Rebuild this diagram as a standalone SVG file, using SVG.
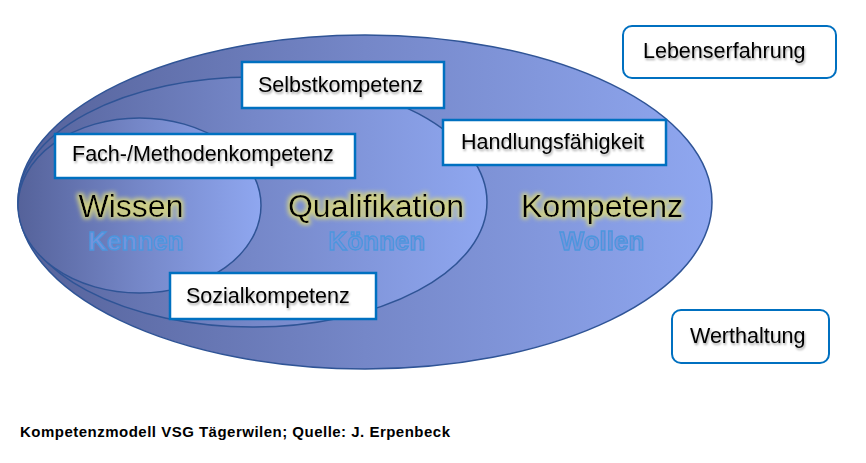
<svg xmlns="http://www.w3.org/2000/svg" width="866" height="463" viewBox="0 0 866 463">
<defs>
<linearGradient id="gBlue" x1="0" y1="0" x2="1" y2="0">
<stop offset="0" stop-color="#55629a"/>
<stop offset="0.5" stop-color="#7587c8"/>
<stop offset="1" stop-color="#8fa7f0"/>
</linearGradient>
<filter id="glow" x="-20%" y="-40%" width="140%" height="180%">
<feMorphology in="SourceAlpha" operator="dilate" radius="1.5" result="d"/>
<feGaussianBlur in="d" stdDeviation="2" result="b"/>
<feFlood flood-color="#d2d283" flood-opacity="0.95"/>
<feComposite in2="b" operator="in" result="g"/>
<feMerge><feMergeNode in="g"/><feMergeNode in="SourceGraphic"/></feMerge>
</filter>
<filter id="soft" x="-10%" y="-30%" width="120%" height="160%">
<feGaussianBlur stdDeviation="0.4"/>
</filter>
<filter id="shadow" x="-10%" y="-30%" width="120%" height="160%">
<feDropShadow dx="1" dy="2" stdDeviation="1.2" flood-color="#000" flood-opacity="0.35"/>
</filter>
</defs>
<style>
.ell{fill:url(#gBlue);stroke:#2f5496;stroke-width:1.5}
.box{fill:#fff;stroke:#0070c0;stroke-width:2.5}
.rbox{fill:#fff;stroke:#0070c0;stroke-width:2}
.bt{font-family:"Liberation Sans",Arial,sans-serif;font-size:21.5px;fill:#000;filter:url(#shadow)}
.big{font-family:"Liberation Sans",Arial,sans-serif;font-size:32px;fill:#000;text-anchor:middle;filter:url(#glow)}
.sub{font-family:"Liberation Sans",Arial,sans-serif;font-size:26px;font-weight:bold;fill:#7594dc;stroke:#4c96de;stroke-width:1.3;text-anchor:middle;filter:url(#soft)}
.cap{font-family:"Liberation Sans",Arial,sans-serif;font-size:15px;font-weight:bold;fill:#000}
</style>
<rect width="866" height="463" fill="#fff"/>
<g id="ellipse-kompetenz">
<ellipse class="ell" cx="365" cy="202" rx="347" ry="167"/>
</g>
<g id="ellipse-qualifikation">
<ellipse class="ell" cx="252.5" cy="202" rx="234.5" ry="125"/>
</g>
<g id="ellipse-wissen">
<ellipse class="ell" cx="139.5" cy="205.5" rx="121.5" ry="87.5"/>
</g>
<g id="label-wissen">
<text class="big" x="131" y="217">Wissen</text>
<text class="sub" x="136" y="250">Kennen</text>
</g>
<g id="label-qualifikation">
<text class="big" x="376" y="217">Qualifikation</text>
<text class="sub" x="377" y="250">Können</text>
</g>
<g id="label-kompetenz">
<text class="big" x="602" y="217">Kompetenz</text>
<text class="sub" x="602" y="250">Wollen</text>
</g>
<g id="node-selbstkompetenz">
<rect class="box" x="242" y="62" width="202" height="46"/>
<text class="bt" x="258" y="92">Selbstkompetenz</text>
</g>
<g id="node-fach">
<rect class="box" x="55" y="134" width="300" height="44"/>
<text class="bt" x="72" y="161">Fach-/Methodenkompetenz</text>
</g>
<g id="node-handlung">
<rect class="box" x="443" y="120" width="223" height="45"/>
<text class="bt" x="461" y="149">Handlungsfähigkeit</text>
</g>
<g id="node-sozial">
<rect class="box" x="170" y="273" width="206" height="46"/>
<text class="bt" x="186" y="303">Sozialkompetenz</text>
</g>
<g id="node-lebenserfahrung">
<rect class="rbox" x="623" y="26" width="213" height="52" rx="9"/>
<text class="bt" x="643" y="58">Lebenserfahrung</text>
</g>
<g id="node-werthaltung">
<rect class="rbox" x="672" y="310" width="157" height="53" rx="9"/>
<text class="bt" x="690" y="343">Werthaltung</text>
</g>
<g id="caption">
<text class="cap" x="20" y="437" textLength="430" lengthAdjust="spacing">Kompetenzmodell VSG Tägerwilen; Quelle: J. Erpenbeck</text>
</g>
</svg>
